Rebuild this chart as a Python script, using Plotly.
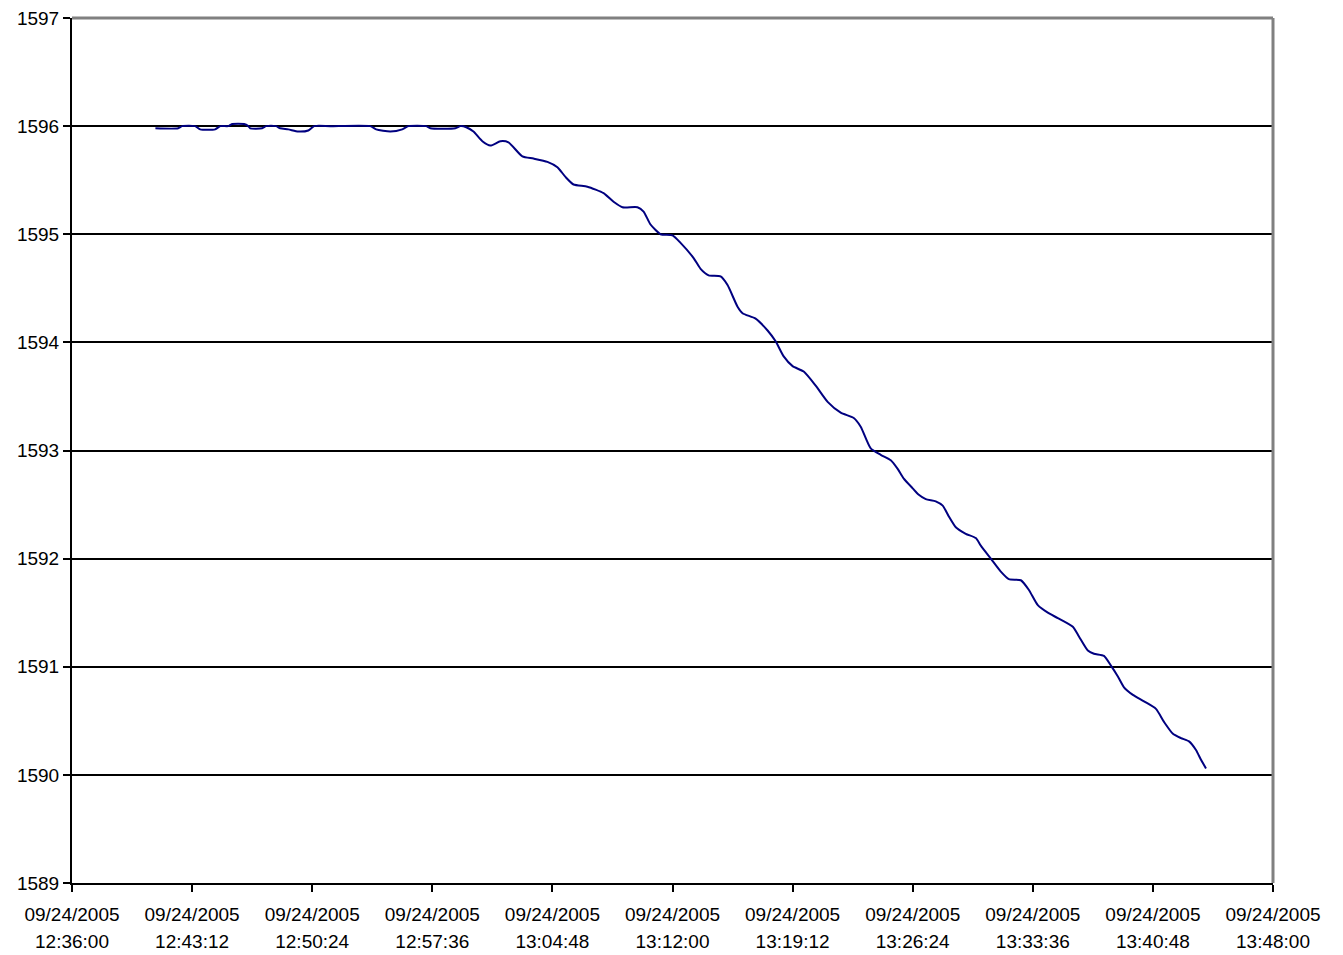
import plotly.graph_objects as go

date = "2005-09-24"
times = [
    "12:41:00", "12:42:22", "12:42:36", "12:43:23", "12:43:41", "12:44:35", "12:44:53",
    "12:45:22", "12:45:36", "12:46:19", "12:46:34", "12:46:41", "12:47:24", "12:47:38",
    "12:48:14", "12:48:29", "12:48:58", "12:49:34", "12:50:10", "12:50:31", "12:51:29",
    "12:53:53", "12:54:14", "12:55:05", "12:55:48", "12:56:10", "12:57:14", "12:57:29",
    "12:58:59", "12:59:17", "12:59:38", "13:00:04", "13:00:36", "13:01:05", "13:01:41",
    "13:02:10", "13:03:00", "13:03:40", "13:04:30", "13:05:06", "13:05:35", "13:06:04",
    "13:06:54", "13:07:52", "13:08:28", "13:09:00", "13:09:54", "13:10:16", "13:10:41",
    "13:11:17", "13:12:00", "13:12:29", "13:13:16", "13:13:41", "13:14:10", "13:14:53",
    "13:15:18", "13:15:54", "13:16:12", "13:16:59", "13:17:42", "13:18:11", "13:18:40",
    "13:19:12", "13:19:52", "13:20:35", "13:21:18", "13:22:05", "13:22:52", "13:23:17",
    "13:23:53", "13:24:29", "13:25:05", "13:25:30", "13:25:52", "13:26:24", "13:26:46",
    "13:27:11", "13:27:47", "13:28:12", "13:28:34", "13:28:59", "13:29:35", "13:30:11",
    "13:30:29", "13:31:05", "13:31:41", "13:32:10", "13:32:53", "13:33:22", "13:33:54",
    "13:34:30", "13:35:06", "13:36:00", "13:36:22", "13:36:54", "13:37:16", "13:37:52",
    "13:38:17", "13:38:42", "13:39:04", "13:39:36", "13:40:16", "13:40:59", "13:41:28",
    "13:42:00", "13:42:29", "13:42:58", "13:43:23", "13:43:41", "13:43:59",
]
values = [
    1595.98, 1595.98, 1596.00, 1596.00, 1595.97, 1595.97, 1596.00,
    1596.00, 1596.02, 1596.02, 1596.00, 1595.98, 1595.98, 1596.00,
    1596.00, 1595.98, 1595.97, 1595.95, 1595.96, 1596.00, 1596.00,
    1596.00, 1595.97, 1595.95, 1595.97, 1596.00, 1596.00, 1595.98,
    1595.98, 1596.00, 1595.99, 1595.95, 1595.86, 1595.82, 1595.86,
    1595.85, 1595.72, 1595.70, 1595.67, 1595.62, 1595.53, 1595.46,
    1595.44, 1595.38, 1595.30, 1595.25, 1595.25, 1595.21, 1595.09,
    1595.00, 1594.99, 1594.92, 1594.78, 1594.68, 1594.62, 1594.61,
    1594.53, 1594.33, 1594.27, 1594.22, 1594.11, 1594.01, 1593.87,
    1593.78, 1593.73, 1593.60, 1593.45, 1593.35, 1593.30, 1593.22,
    1593.02, 1592.96, 1592.91, 1592.83, 1592.74, 1592.65, 1592.59,
    1592.55, 1592.53, 1592.49, 1592.39, 1592.29, 1592.23, 1592.19,
    1592.12, 1592.00, 1591.88, 1591.81, 1591.80, 1591.71, 1591.57,
    1591.50, 1591.45, 1591.37, 1591.28, 1591.15, 1591.12, 1591.10,
    1591.01, 1590.91, 1590.81, 1590.74, 1590.68, 1590.61, 1590.49,
    1590.38, 1590.34, 1590.31, 1590.23, 1590.14, 1590.06,
]

tick_times = ["12:36:00", "12:43:12", "12:50:24", "12:57:36", "13:04:48", "13:12:00",
              "13:19:12", "13:26:24", "13:33:36", "13:40:48", "13:48:00"]
tick_date_label = "09/24/2005"
y_ticks = [1589, 1590, 1591, 1592, 1593, 1594, 1595, 1596, 1597]

x = [f"{date} {t}" for t in times]
tickvals = [f"{date} {t}" for t in tick_times]
x_range = [tickvals[0], tickvals[-1]]

font = dict(family="Liberation Sans, Arial, sans-serif", size=19, color="black")

fig = go.Figure()
fig.add_trace(go.Scatter(x=x, y=values, mode="lines",
                         line=dict(color="#000080", width=2, shape="spline", smoothing=0.6),
                         showlegend=False))

fig.update_layout(
    width=1343, height=955,
    margin=dict(l=64, r=78, t=10, b=80, autoexpand=False),
    paper_bgcolor="white", plot_bgcolor="white",
    font=font,
    xaxis=dict(
        type="date", range=x_range, tickmode="array", tickvals=tickvals,
        ticktext=[tick_date_label] * len(tickvals),
        ticks="outside", ticklen=7, tickwidth=2, tickcolor="black",
        showline=True, linecolor="black", linewidth=2, showgrid=False,
        zeroline=False, tickfont=font, tickangle=0, automargin=False,
        ticklabelstandoff=6, ticklabeloverflow="allow",
    ),
    xaxis2=dict(
        type="date", range=x_range, overlaying="x", anchor="y", side="bottom",
        tickmode="array", tickvals=tickvals, ticktext=tick_times,
        ticks="", showline=False, showgrid=False, zeroline=False,
        tickfont=font, ticklabelstandoff=45, tickangle=0, automargin=False,
        ticklabeloverflow="allow",
    ),
    yaxis=dict(
        range=[1589, 1597], tickmode="array", tickvals=y_ticks,
        ticktext=[str(v) for v in y_ticks],
        ticks="outside", ticklen=7, tickwidth=2, tickcolor="black",
        showline=True, linecolor="black", linewidth=2,
        showgrid=True, gridcolor="black", gridwidth=2,
        zeroline=False, tickfont=font, automargin=False,
        ticklabeloverflow="allow",
    ),
    shapes=[
        dict(type="line", xref="paper", yref="paper", x0=0, x1=1, y0=1, y1=1,
             line=dict(color="#808080", width=3), layer="above"),
        dict(type="line", xref="paper", yref="paper", x0=1, x1=1, y0=0, y1=1,
             line=dict(color="#808080", width=3), layer="above"),
    ],
)
fig.add_trace(go.Scatter(x=[tickvals[0]], y=[None], xaxis="x2", showlegend=False,
                         hoverinfo="skip"))

fig.write_html("out.html")
